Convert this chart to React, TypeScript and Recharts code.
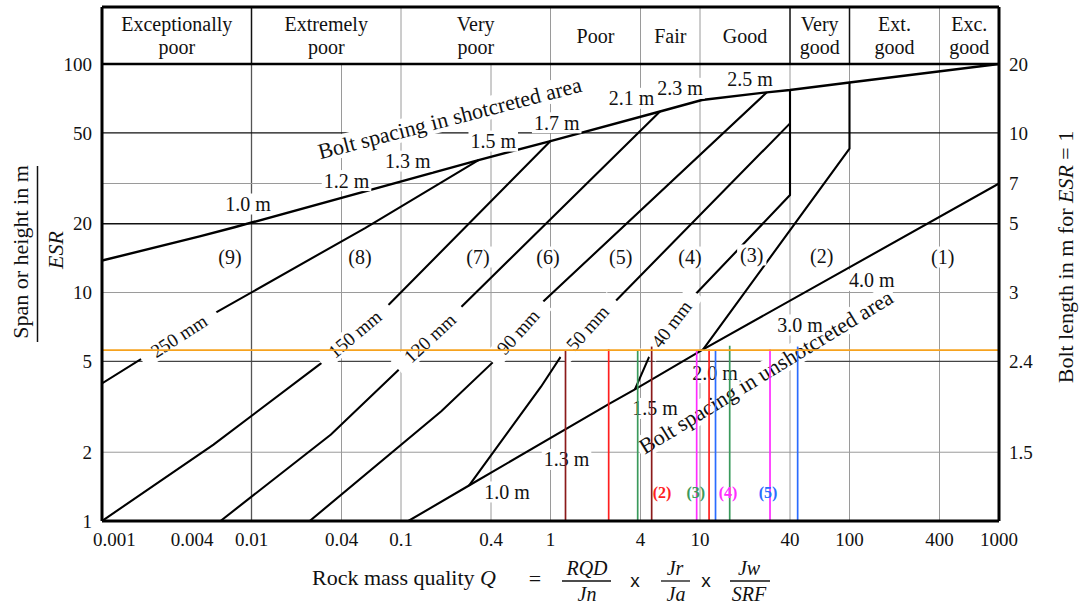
import React from 'react';
import {
  ComposedChart,
  Line,
  Scatter,
  XAxis,
  YAxis,
  ReferenceLine,
  ReferenceArea,
} from 'recharts';

const W = 1082;
const H = 605;
const Q_MIN = 0.001;
const Q_MAX = 1000;
const SPAN_MIN = 1;
const SPAN_TOP = 177.7; // top of the rock-class band above span 100

// ---------- categories / ticks ----------
const classBounds = [0.001, 0.01, 0.1, 1, 4, 10, 40, 100, 400, 1000];
const classNames = [
  ['Exceptionally', 'poor'],
  ['Extremely', 'poor'],
  ['Very', 'poor'],
  ['Poor'],
  ['Fair'],
  ['Good'],
  ['Very', 'good'],
  ['Ext.', 'good'],
  ['Exc.', 'good'],
];
const classDividersDark = [0.01, 40, 100];

const qTicks = [0.001, 0.004, 0.01, 0.04, 0.1, 0.4, 1, 4, 10, 40, 100, 400, 1000];
const spanTicks = [1, 2, 5, 10, 20, 50, 100];
const boltTickSpans = [2, 5, 10, 20, 30, 50, 100];
const boltLengthLabels = ['1.5', '2.4', '3', '5', '7', '10', '20'];

const spanGridDark = [50, 20, 5];
const spanGridLight = [30, 10, 2];
const qGridPlot = [0.01, 0.04, 0.1, 0.4, 1, 4, 10, 40, 100, 400];

// ---------- curves (Q, span/ESR) ----------
type P = { q: number; s: number };
const pts = (a: number[][]): P[] => a.map(([q, s]) => ({ q, s }));

const shotcreteEnvelope = pts([
  [0.001, 13.8], [0.0045, 17.6], [0.0077, 19.3], [0.33, 38], [1.0, 46],
  [5.4, 62], [10.3, 69.6], [28, 75.2], [40, 77], [100, 83], [1000, 100],
]);
const bound250 = pts([[0.001, 4.0], [0.00557, 8.06], [0.0579, 19.2], [0.33, 38]]);
const bound150 = pts([[0.001, 1], [0.00557, 2.16], [0.029, 4.88], [0.084, 8.93], [1.0, 46]]);
const bound120 = pts([[0.0062, 1], [0.034, 2.39], [0.0985, 4.65], [0.248, 8.53], [5.4, 62]]);
const bound90 = pts([[0.0245, 1], [0.186, 3.02], [0.414, 4.97], [0.891, 9.11], [28, 75.2]]);
const bound50 = pts([[0.285, 1.43], [0.864, 3.87], [1.25, 5.6], [2.5, 8.67], [40, 55]]);
const bound40 = pts([[3.67, 3.77], [4.85, 5.72], [8.57, 9.27], [40, 26.7], [40, 77]]);
const bound3to2 = pts([[10.5, 5.64], [100, 42.6], [100, 83]]);
const unshotcreteLine = pts([[0.112, 1], [0.285, 1.43], [2.45, 3.25], [3.67, 3.77], [10.5, 5.64], [1000, 30]]);

const boundaryCurves = [bound250, bound150, bound120, bound90, bound50, bound40, bound3to2, unshotcreteLine];

// ---------- annotations ----------
const shotcreteSpacingLabels = [
  { q: 0.00948, s: 24.4, text: '1.0 m' },
  { q: 0.0432, s: 30.9, text: '1.2 m' },
  { q: 0.111, s: 37.6, text: '1.3 m' },
  { q: 0.414, s: 46.0, text: '1.5 m' },
  { q: 1.1, s: 55.3, text: '1.7 m' },
  { q: 3.49, s: 70.8, text: '2.1 m' },
  { q: 7.35, s: 78.3, text: '2.3 m' },
  { q: 21.6, s: 85.7, text: '2.5 m' },
];
const unshotcreteSpacingLabels = [
  { q: 0.512, s: 1.34, text: '1.0 m' },
  { q: 1.28, s: 1.86, text: '1.3 m' },
  { q: 5.0, s: 3.11, text: '1.5 m' },
  { q: 12.6, s: 4.46, text: '2.0 m' },
  { q: 46.7, s: 7.21, text: '3.0 m' },
  { q: 141, s: 11.3, text: '4.0 m' },
];
const shotcreteThickness = [
  { q: 0.00327, s: 6.45, text: '250 mm' },
  { q: 0.0492, s: 6.58, text: '150 mm' },
  { q: 0.156, s: 6.32, text: '120 mm' },
  { q: 0.607, s: 6.72, text: '90 mm' },
  { q: 1.77, s: 6.99, text: '50 mm' },
  { q: 6.44, s: 7.28, text: '40 mm' },
];
const supportCategories = [
  { q: 0.00718, s: 14.3, text: '(9)' },
  { q: 0.0532, s: 14.3, text: '(8)' },
  { q: 0.327, s: 14.3, text: '(7)' },
  { q: 0.962, s: 14.3, text: '(6)' },
  { q: 2.95, s: 14.3, text: '(5)' },
  { q: 8.57, s: 14.3, text: '(4)' },
  { q: 22.2, s: 14.6, text: '(3)' },
  { q: 65.2, s: 14.5, text: '(2)' },
  { q: 420, s: 14.3, text: '(1)' },
];
const areaTitles = [
  { q: 0.212, s: 58.0, text: 'Bolt spacing in shotcreted area' },
  { q: 27.6, s: 4.5, text: 'Bolt spacing in unshotcreted area' },
];

// design span (orange) and the Q values of the cases (vertical coloured lines)
const designSpan = 5.6;
const caseLineQ = [1.26, 2.45, 3.83, 4.75, 9.5, 11.5, 12.7, 15.8, 29.4, 45];
const caseLineTop = [5.6, 5.65, 5.6, 5.8, 5.6, 5.65, 5.6, 5.85, 5.65, 5.8];
const caseLineCase = [1, 2, 3, 1, 4, 2, 5, 3, 4, 5];
const caseLabels = [
  { q: 5.57, s: 1.33, c: 2, text: '(2)' },
  { q: 9.36, s: 1.33, c: 3, text: '(3)' },
  { q: 15.4, s: 1.33, c: 4, text: '(4)' },
  { q: 28.5, s: 1.33, c: 5, text: '(5)' },
];

// ---------- styles ----------
const SERIF_NAME = 'Liberation Serif';
const serif = '"Liberation Serif", "Times New Roman", serif';
const sans = '"Liberation Sans", Arial, sans-serif';
const CASE_COLORS: Record<number, string> = {
  1: '#8b1a1a',
  2: '#ff1f1f',
  3: '#3a9a5c',
  4: '#ff2bff',
  5: '#2a6cff',
};
const ORANGE = '#f6a21e';
const GRID_LIGHT = '#9a9a9a';
const MM_ANGLE: Record<string, number> = {
  '250 mm': -33,
  '150 mm': -40,
  '120 mm': -43,
  '90 mm': -48,
  '50 mm': -48,
  '40 mm': -53,
};
const TITLE_ANGLE = [-14.5, -31.5];

const fmtQ = (v: number) => String(v);
const fmtBolt = (v: number) => boltLengthLabels[boltTickSpans.indexOf(v)] ?? '';

let measureCtx: CanvasRenderingContext2D | null = null;
function textWidth(text: string, size: number, bold = false): number {
  try {
    if (!measureCtx) measureCtx = document.createElement('canvas').getContext('2d');
    if (measureCtx) {
      measureCtx.font = `${bold ? 'bold ' : ''}${size}px "${SERIF_NAME}"`;
      return measureCtx.measureText(text).width;
    }
  } catch (e) {
    /* ignore */
  }
  return text.length * size * 0.48;
}

function QTick(props: any) {
  const { x, y, payload } = props;
  const first = payload.value === qTicks[0];
  return (
    <text
      x={first ? x - 9 : x}
      y={y}
      dy="0.71em"
      textAnchor={first ? 'start' : 'middle'}
      fontFamily={serif}
      fontSize={19}
      fill="#111"
    >
      {fmtQ(payload.value)}
    </text>
  );
}

function BandLabel(props: any) {
  const { viewBox, lines } = props;
  if (!viewBox) return null;
  const cx = viewBox.x + viewBox.width / 2;
  const cy = viewBox.y + viewBox.height / 2;
  const lh = 23;
  const y0 = cy - ((lines.length - 1) * lh) / 2 + 7;
  return (
    <text textAnchor="middle" fontFamily={serif} fontSize={20} fill="#111">
      {lines.map((l: string, i: number) => (
        <tspan key={i} x={cx} y={y0 + i * lh}>
          {l}
        </tspan>
      ))}
    </text>
  );
}

const makeTextShape =
  (opts: {
    size: number;
    bg?: boolean;
    padX?: number;
    angle?: (p: any, i: number) => number;
    color?: (p: any) => string;
    bold?: boolean;
  }) =>
  (props: any) => {
    const { cx, cy, payload, index } = props;
    if (cx == null || cy == null) return <g />;
    const a = opts.angle ? opts.angle(payload, index) : 0;
    const w = textWidth(payload.text, opts.size, opts.bold) + 2 * (opts.padX ?? 2);
    const h = opts.size * 1.05;
    return (
      <g transform={`translate(${cx},${cy}) rotate(${a})`}>
        {opts.bg && <rect x={-w / 2} y={-h / 2} width={w} height={h} fill="#fff" />}
        <text
          x={0}
          y={0}
          textAnchor="middle"
          dominantBaseline="central"
          fontFamily={serif}
          fontSize={opts.size}
          fontWeight={opts.bold ? 'bold' : 'normal'}
          fill={opts.color ? opts.color(payload) : '#111'}
        >
          {payload.text}
        </text>
      </g>
    );
  };

const plainLabelShape = makeTextShape({ size: 20, bg: true, padX: 2 });
const categoryShape = makeTextShape({ size: 20, bg: true, padX: 3 });
const mmShape = makeTextShape({ size: 19, bg: true, padX: 13, angle: (p) => MM_ANGLE[p.text] ?? -45 });
const titleShape = makeTextShape({ size: 22, bg: true, padX: 3, angle: (_p, i) => TITLE_ANGLE[i] ?? 0 });
const caseShape = makeTextShape({ size: 16, bold: true, color: (p) => CASE_COLORS[p.c] });

const tickStyle = { fontFamily: serif, fontSize: 19, fill: '#111' };

export default function App() {
  return (
    <div style={{ position: 'absolute', left: 0, top: 0, width: W, height: H, background: '#fff' }}>
      <ComposedChart width={W} height={H} margin={{ top: 7, right: 23, bottom: 54, left: 42 }}>
        <XAxis
          type="number"
          dataKey="q"
          scale="log"
          domain={[Q_MIN, Q_MAX]}
          allowDataOverflow
          ticks={qTicks}
          interval={0}
          tickFormatter={fmtQ}
          tickLine={false}
          axisLine={false}
          tickSize={0}
          tickMargin={12}
          height={30}
          tick={<QTick />}
        />
        <YAxis
          yAxisId="left"
          type="number"
          dataKey="s"
          scale="log"
          domain={[SPAN_MIN, SPAN_TOP]}
          allowDataOverflow
          ticks={spanTicks}
          interval={0}
          tickLine={false}
          axisLine={false}
          tickSize={0}
          tickMargin={10}
          width={60}
          tick={tickStyle}
        />
        <YAxis
          yAxisId="right"
          orientation="right"
          type="number"
          dataKey="s"
          scale="log"
          domain={[SPAN_MIN, SPAN_TOP]}
          allowDataOverflow
          ticks={boltTickSpans}
          interval={0}
          tickFormatter={fmtBolt}
          tickLine={false}
          axisLine={false}
          tickSize={0}
          tickMargin={10}
          width={60}
          tick={tickStyle}
        />

        {/* rock mass classes band */}
        {classNames.map((lines, i) => (
          <ReferenceArea
            key={'band' + i}
            yAxisId="left"
            x1={classBounds[i]}
            x2={classBounds[i + 1]}
            y1={100}
            y2={SPAN_TOP}
            fill="#fff"
            fillOpacity={0}
            stroke="none"
            zIndex={50}
            label={<BandLabel lines={lines} />}
          />
        ))}
        {classBounds.slice(1, -1).map((b) => (
          <ReferenceLine
            key={'div' + b}
            yAxisId="left"
            segment={[{ x: b, y: 100 }, { x: b, y: SPAN_TOP }]}
            stroke={classDividersDark.includes(b) ? '#111' : GRID_LIGHT}
            strokeWidth={classDividersDark.includes(b) ? 1.5 : 1}
            zIndex={60}
          />
        ))}

        {/* grid */}
        {qGridPlot.map((b) => (
          <ReferenceLine
            key={'vg' + b}
            yAxisId="left"
            segment={[{ x: b, y: SPAN_MIN }, { x: b, y: 100 }]}
            stroke={b === 0.01 ? '#555' : GRID_LIGHT}
            strokeWidth={b === 0.01 ? 1.3 : 1}
            zIndex={60}
          />
        ))}
        {spanGridLight.map((v) => (
          <ReferenceLine key={'hl' + v} yAxisId="left" y={v} stroke={GRID_LIGHT} strokeWidth={1} zIndex={61} />
        ))}
        {spanGridDark.map((v) => (
          <ReferenceLine key={'hd' + v} yAxisId="left" y={v} stroke={v === 5 ? '#444' : '#111'} strokeWidth={1.3} zIndex={62} />
        ))}
        <ReferenceLine yAxisId="left" y={100} stroke="#000" strokeWidth={2.6} zIndex={63} />

        {/* support boundaries */}
        <Line
          yAxisId="left"
          data={shotcreteEnvelope}
          dataKey="s"
          type="linear"
          stroke="#000"
          strokeWidth={2.4}
          dot={false}
          activeDot={false}
          isAnimationActive={false}
          zIndex={400}
        />
        {boundaryCurves.map((d, i) => (
          <Line
            key={'b' + i}
            yAxisId="left"
            data={d}
            dataKey="s"
            type="linear"
            stroke="#000"
            strokeWidth={2.1}
            dot={false}
            activeDot={false}
            isAnimationActive={false}
            zIndex={400}
          />
        ))}

        {/* labels with white backing */}
        <Scatter yAxisId="left" data={areaTitles} dataKey="s" shape={titleShape} isAnimationActive={false} zIndex={590} />
        <Scatter yAxisId="left" data={shotcreteSpacingLabels} dataKey="s" shape={plainLabelShape} isAnimationActive={false} zIndex={600} />
        <Scatter yAxisId="left" data={unshotcreteSpacingLabels} dataKey="s" shape={plainLabelShape} isAnimationActive={false} zIndex={600} />
        <Scatter yAxisId="left" data={shotcreteThickness} dataKey="s" shape={mmShape} isAnimationActive={false} zIndex={600} />
        <Scatter yAxisId="left" data={supportCategories} dataKey="s" shape={categoryShape} isAnimationActive={false} zIndex={600} />

        {/* cases */}
        {caseLineQ.map((q, i) => (
          <ReferenceLine
            key={'case' + i}
            yAxisId="left"
            segment={[{ x: q, y: SPAN_MIN }, { x: q, y: caseLineTop[i] }]}
            stroke={CASE_COLORS[caseLineCase[i]]}
            strokeWidth={1.7}
            zIndex={700}
          />
        ))}
        <ReferenceLine yAxisId="left" y={designSpan} stroke={ORANGE} strokeWidth={1.7} zIndex={710} />
        <Scatter yAxisId="left" data={caseLabels} dataKey="s" shape={caseShape} isAnimationActive={false} zIndex={720} />

        {/* frame */}
        <ReferenceLine yAxisId="left" x={Q_MIN} stroke="#000" strokeWidth={3} zIndex={800} />
        <ReferenceLine yAxisId="left" x={Q_MAX} stroke="#000" strokeWidth={3} zIndex={800} />
        <ReferenceLine yAxisId="left" y={SPAN_MIN} stroke="#000" strokeWidth={3} zIndex={800} />
        <ReferenceLine yAxisId="left" y={SPAN_TOP} stroke="#000" strokeWidth={3} zIndex={800} />

        <Line
          yAxisId="right"
          data={[{ q: Q_MIN, s: SPAN_MIN }, { q: Q_MAX, s: SPAN_TOP }]}
          dataKey="s"
          stroke="none"
          dot={false}
          activeDot={false}
          isAnimationActive={false}
        />
      </ComposedChart>

      <svg width={W} height={H} style={{ position: 'absolute', left: 0, top: 0, pointerEvents: 'none' }}>
        <g fontFamily={serif} fill="#111">
          <text transform="translate(20,252) rotate(-90)" textAnchor="middle" dominantBaseline="central" fontSize={22}>
            Span or height in m
          </text>
          <line x1={37.5} y1={166} x2={37.5} y2={342} stroke="#111" strokeWidth={1.5} />
          <text transform="translate(55,250) rotate(-90)" textAnchor="middle" dominantBaseline="central" fontSize={22} fontStyle="italic">
            ESR
          </text>
          <text transform="translate(1065,257) rotate(-90)" textAnchor="middle" dominantBaseline="central" fontSize={22}>
            Bolt length in m for <tspan fontStyle="italic">ESR</tspan> = 1
          </text>

          <text x={312} y={577} dominantBaseline="central" fontSize={22}>
            Rock mass quality <tspan fontStyle="italic">Q</tspan>
          </text>
          <text x={535} y={578} textAnchor="middle" dominantBaseline="central" fontSize={22}>
            =
          </text>

          <text x={587} y={568} textAnchor="middle" dominantBaseline="central" fontSize={20} fontStyle="italic">RQD</text>
          <line x1={562} y1={581} x2={611} y2={581} stroke="#111" strokeWidth={1.3} />
          <text x={587} y={594} textAnchor="middle" dominantBaseline="central" fontSize={20} fontStyle="italic">Jn</text>

          <text x={635} y={580} textAnchor="middle" dominantBaseline="central" fontSize={19} fontFamily={sans}>x</text>

          <text x={675} y={568} textAnchor="middle" dominantBaseline="central" fontSize={20} fontStyle="italic">Jr</text>
          <line x1={661} y1={581} x2={690} y2={581} stroke="#111" strokeWidth={1.3} />
          <text x={676} y={594} textAnchor="middle" dominantBaseline="central" fontSize={20} fontStyle="italic">Ja</text>

          <text x={706} y={580} textAnchor="middle" dominantBaseline="central" fontSize={19} fontFamily={sans}>x</text>

          <text x={749} y={568} textAnchor="middle" dominantBaseline="central" fontSize={20} fontStyle="italic">Jw</text>
          <line x1={730} y1={581} x2={770} y2={581} stroke="#111" strokeWidth={1.3} />
          <text x={749} y={594} textAnchor="middle" dominantBaseline="central" fontSize={20} fontStyle="italic">SRF</text>
        </g>
      </svg>
    </div>
  );
}
